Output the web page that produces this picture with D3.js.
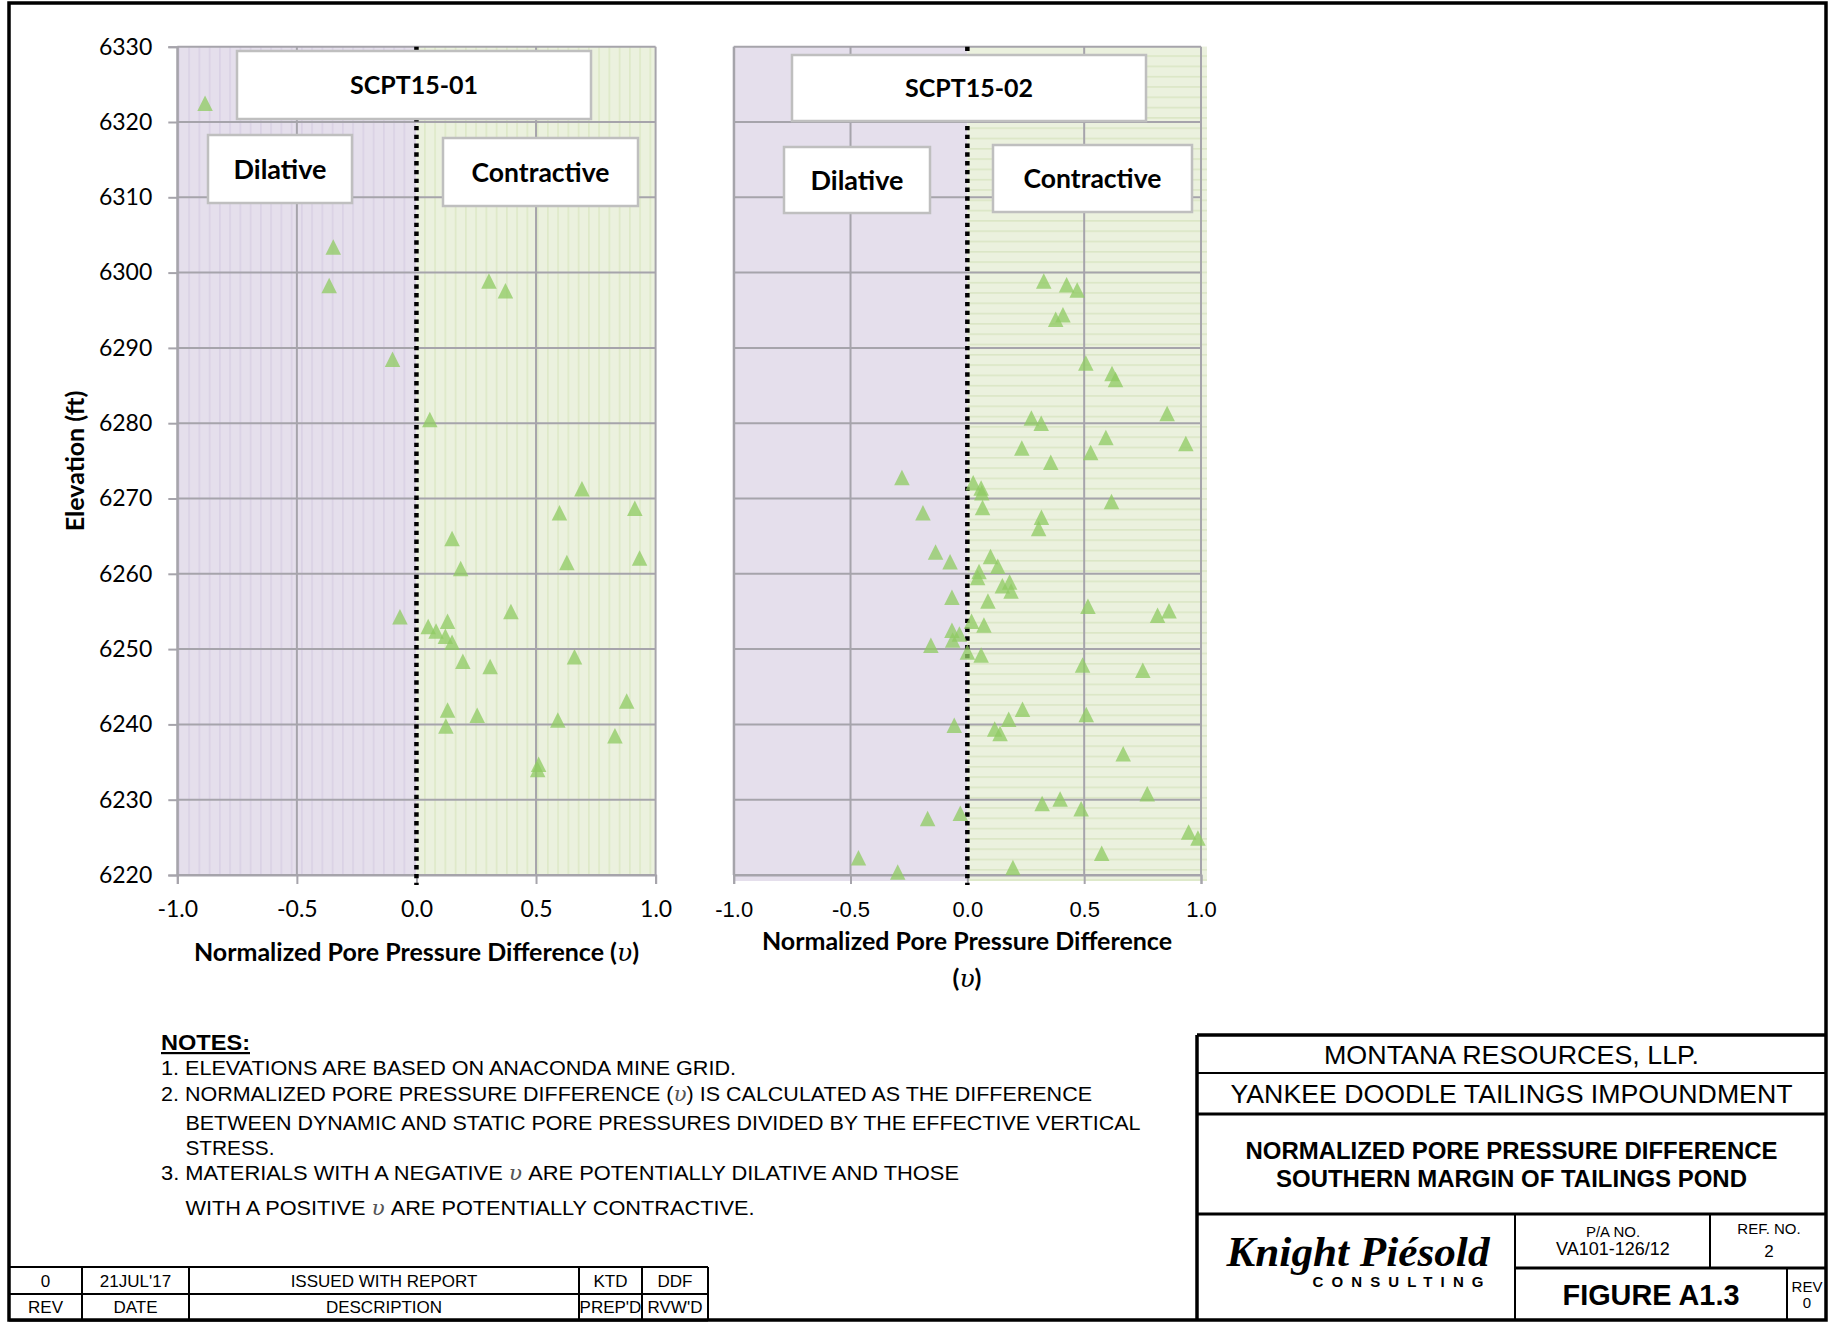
<!DOCTYPE html>
<html>
<head>
<meta charset="utf-8">
<script src="https://cdnjs.cloudflare.com/ajax/libs/d3/7.8.5/d3.min.js"></script>
<style>
  html, body { margin: 0; padding: 0; background: #fff; }
  svg { display: block; }
</style>
</head>
<body>
<svg id="sheet" width="1829" height="1323"></svg>
<script>
// ---- Data -------------------------------------------------------------
const elevTicks = [6220, 6230, 6240, 6250, 6260, 6270, 6280, 6290, 6300, 6310, 6320, 6330];
const vTicks = [-1.0, -0.5, 0.0, 0.5, 1.0];
const vTickLabels = ["-1.0", "-0.5", "0.0", "0.5", "1.0"];

// SCPT15-01 : normalized pore pressure difference and elevation (ft)
const scpt01V = [-0.884, -0.348, -0.365, -0.100, 0.056, 0.303, 0.372, 0.692, 0.598, 0.913,
  0.149, 0.629, 0.933, 0.185, -0.069, 0.395, 0.049, 0.082, 0.130, 0.121,
  0.149, 0.194, 0.308, 0.661, 0.879, 0.130, 0.254, 0.123, 0.591, 0.830,
  0.511, 0.507];
const scpt01Elev = [6322.5, 6303.4, 6298.3, 6288.5, 6280.5, 6298.9, 6297.6, 6271.3, 6268.1, 6268.7,
  6264.7, 6261.5, 6262.1, 6260.7, 6254.3, 6255.0, 6253.0, 6252.4, 6253.7, 6251.7,
  6250.9, 6248.4, 6247.7, 6249.0, 6243.1, 6241.9, 6241.2, 6239.8, 6240.6, 6238.5,
  6234.7, 6234.0];

// SCPT15-02
const scpt02V = [0.327, 0.425, 0.470, 0.409, 0.378, 0.507, 0.619, 0.634, 0.274, 0.316,
  0.855, 0.593, 0.233, 0.528, 0.935, 0.357, -0.280, 0.025, 0.059, 0.062,
  0.617, -0.190, 0.065, 0.317, 0.305, -0.136, 0.099, -0.074, 0.130, 0.050,
  0.044, 0.181, 0.150, 0.187, -0.066, 0.088, 0.516, 0.814, 0.863, 0.018,
  0.071, -0.066, -0.034, -0.063, -0.156, 0.000, 0.059, 0.493, 0.751, 0.236,
  0.509, 0.177, -0.056, 0.117, 0.140, 0.667, 0.770, 0.397, 0.320, 0.487,
  -0.030, -0.170, 0.947, 0.987, 0.575, -0.466, -0.298, 0.195];
const scpt02Elev = [6298.9, 6298.4, 6297.7, 6294.4, 6293.8, 6288.0, 6286.6, 6285.8, 6280.7, 6280.0,
  6281.3, 6278.1, 6276.7, 6276.1, 6277.3, 6274.8, 6272.8, 6272.1, 6271.4, 6270.75,
  6269.6, 6268.1, 6268.8, 6267.5, 6266.0, 6262.9, 6262.3, 6261.6, 6261.0, 6260.3,
  6259.5, 6258.9, 6258.4, 6257.7, 6256.9, 6256.4, 6255.7, 6254.5, 6255.1, 6253.7,
  6253.2, 6252.5, 6252.0, 6251.2, 6250.5, 6249.6, 6249.2, 6247.9, 6247.2, 6242.0,
  6241.3, 6240.7, 6239.9, 6239.4, 6238.8, 6236.1, 6230.8, 6230.1, 6229.5, 6228.8,
  6228.2, 6227.5, 6225.7, 6224.9, 6222.9, 6222.3, 6220.4, 6221.0];

const notesLines = [
  "1. ELEVATIONS ARE BASED ON ANACONDA MINE GRID.",
  ["2. NORMALIZED PORE PRESSURE DIFFERENCE (", "υ", ") IS CALCULATED AS THE DIFFERENCE"],
  "BETWEEN DYNAMIC AND STATIC PORE PRESSURES DIVIDED BY THE EFFECTIVE VERTICAL",
  "STRESS.",
  ["3. MATERIALS WITH A  NEGATIVE ", "υ", " ARE POTENTIALLY DILATIVE AND THOSE"],
  ["WITH A POSITIVE ", "υ", " ARE POTENTIALLY CONTRACTIVE."]
];
const revRow = ["0", "21JUL'17", "ISSUED WITH REPORT", "KTD", "DDF"];
const revHead = ["REV", "DATE", "DESCRIPTION", "PREP'D", "RVW'D"];

// ---- Drawing ----------------------------------------------------------
const svg = d3.select("#sheet");
const CAL = "Lato, 'Open Sans', sans-serif";
const ARIAL = "'Liberation Sans', Arial, sans-serif";
const NARROW = "'Liberation Sans Narrow', 'Arial Narrow', 'Liberation Sans', sans-serif";

const defs = svg.append("defs");
function linePattern(id, bg, fg, vertical) {
  const p = defs.append("pattern").attr("id", id)
    .attr("patternUnits", "userSpaceOnUse")
    .attr("width", vertical ? 10.25 : 20).attr("height", vertical ? 20 : 10.3);
  p.append("rect").attr("width", 20).attr("height", 20).attr("fill", bg);
  if (vertical) p.append("rect").attr("x", 4).attr("y", 0).attr("width", 1.2).attr("height", 20).attr("fill", fg);
  else p.append("rect").attr("x", 0).attr("y", 4).attr("width", 20).attr("height", 1.2).attr("fill", fg);
}
linePattern("purpleV", "#e5dfec", "#d6cde3", true);
linePattern("greenV", "#ebf1de", "#d9e6c0", true);
linePattern("greenH", "#ebf1de", "#d6e3bd", false);

const yScale = d3.scaleLinear().domain([6220, 6330]).range([875, 46.7]);

// isosceles triangle marker, as wide as it is tall, centred on its bounding box
const markerTriangle = {
  draw(ctx, size) {
    const h = Math.sqrt(size);
    ctx.moveTo(0, -h / 2);
    ctx.lineTo(h / 2, h / 2);
    ctx.lineTo(-h / 2, h / 2);
    ctx.closePath();
  }
};
const triPath = d3.symbol().type(markerTriangle).size(15.5 * 15.5)();

function drawPanel(opts) {
  const x = d3.scaleLinear().domain([-1, 1]).range(opts.xRange);
  const g = svg.append("g");
  const x0 = x(-1), x1 = x(1), xz = x(0), yTop = yScale(6330), yBot = yScale(6220);
  const ext = opts.bgExtend || 0;

  // background halves
  g.append("rect").attr("x", x0).attr("y", yTop).attr("width", xz - x0).attr("height", yBot - yTop + ext)
    .attr("fill", opts.leftFill);
  g.append("rect").attr("x", xz).attr("y", yTop).attr("width", x1 - xz + ext).attr("height", yBot - yTop + ext)
    .attr("fill", opts.rightFill);

  // gridlines
  g.append("g").selectAll("line").data(elevTicks).join("line")
    .attr("x1", x0).attr("x2", x1).attr("y1", d => yScale(d)).attr("y2", d => yScale(d))
    .attr("stroke", "#a6a4ab").attr("stroke-width", 2);
  g.append("g").selectAll("line").data(vTicks.filter(v => v !== 0)).join("line")
    .attr("x1", d => x(d)).attr("x2", d => x(d)).attr("y1", yTop).attr("y2", yBot)
    .attr("stroke", "#a6a4ab").attr("stroke-width", 2);

  // bottom axis
  const xAxis = d3.axisBottom(x).tickValues(vTicks).tickSize(9).tickPadding(17)
    .tickFormat((d, i) => vTickLabels[i]);
  const ax = g.append("g").attr("transform", `translate(0,${yBot})`).call(xAxis);
  ax.select(".domain").attr("stroke", "#a6a4ab").attr("stroke-width", 2);
  ax.selectAll(".tick line").attr("stroke", "#a6a4ab").attr("stroke-width", 2);
  ax.selectAll(".tick text").attr("font-family", opts.tickFont).attr("font-size", opts.tickSize)
    .attr("fill", "#000");

  // left axis
  const yAxis = d3.axisLeft(yScale).tickValues(elevTicks).tickSize(opts.yLabels ? 9 : 0).tickPadding(16)
    .tickFormat(opts.yLabels ? d3.format("d") : () => "");
  const ay = g.append("g").attr("transform", `translate(${x0},0)`).call(yAxis);
  ay.select(".domain").attr("stroke", "#a6a4ab").attr("stroke-width", 2);
  ay.selectAll(".tick line").attr("stroke", "#a6a4ab").attr("stroke-width", 2);
  ay.selectAll(".tick text").attr("font-family", CAL).attr("font-size", 23).attr("fill", "#000");

  // zero line
  g.append("line").attr("x1", xz).attr("x2", xz).attr("y1", yTop).attr("y2", yBot + 10)
    .attr("stroke", "#000").attr("stroke-width", 4.5).attr("stroke-dasharray", "4.4,4.4");

  // markers
  g.append("g").selectAll("path").data(opts.v.map((v, i) => [v, opts.elev[i]])).join("path")
    .attr("d", triPath)
    .attr("transform", d => `translate(${x(d[0])},${yScale(d[1])})`)
    .attr("fill", "#8fcb62").attr("fill-opacity", 0.76);

  // label boxes
  opts.boxes.forEach(b => {
    g.append("rect").attr("x", b.x).attr("y", b.y).attr("width", b.w).attr("height", b.h)
      .attr("fill", "#fff").attr("stroke", "#bfbfbf").attr("stroke-width", 2.5);
    g.append("text").attr("x", b.x + b.w / 2).attr("y", b.y + b.h / 2).attr("dy", "0.36em")
      .attr("text-anchor", "middle").attr("font-family", CAL).attr("font-weight", 700)
      .attr("font-size", b.size || 26).text(b.text);
  });
  return x;
}

drawPanel({
  xRange: [177.3, 655.6], leftFill: "url(#purpleV)", rightFill: "url(#greenV)",
  yLabels: true, tickFont: CAL, tickSize: 23, v: scpt01V, elev: scpt01Elev,
  boxes: [
    { x: 237, y: 51, w: 354, h: 68, text: "SCPT15-01", size: 25 },
    { x: 208, y: 135, w: 144, h: 68, text: "Dilative", size: 27 },
    { x: 443, y: 138, w: 195, h: 68, text: "Contractive", size: 26.5 }
  ]
});
drawPanel({
  xRange: [733.7, 1201], leftFill: "#e5dfec", rightFill: "url(#greenH)", bgExtend: 6,
  yLabels: false, tickFont: ARIAL, tickSize: 22, v: scpt02V, elev: scpt02Elev,
  boxes: [
    { x: 792, y: 55, w: 354, h: 66, text: "SCPT15-02", size: 25 },
    { x: 784, y: 147, w: 146, h: 66, text: "Dilative", size: 27 },
    { x: 993, y: 145, w: 199, h: 67, text: "Contractive", size: 26.5 }
  ]
});

// axis titles
function upsilonTitle(sel, pre, post) {
  sel.append("tspan").text(pre);
  sel.append("tspan").attr("font-family", "'DejaVu Serif', serif").attr("font-style", "italic")
    .attr("font-weight", 400).text("υ");
  sel.append("tspan").text(post);
}
const t1 = svg.append("text").attr("x", 416.5).attr("y", 961).attr("text-anchor", "middle")
  .attr("font-family", CAL).attr("font-weight", 700).attr("font-size", 25);
upsilonTitle(t1, "Normalized Pore Pressure Difference (", ")");

svg.append("text").attr("x", 967).attr("y", 950).attr("text-anchor", "middle")
  .attr("font-family", CAL).attr("font-weight", 700).attr("font-size", 25)
  .text("Normalized Pore Pressure Difference");
const t2 = svg.append("text").attr("x", 967).attr("y", 987).attr("text-anchor", "middle")
  .attr("font-family", CAL).attr("font-weight", 700).attr("font-size", 25);
upsilonTitle(t2, "(", ")");

svg.append("text").attr("transform", "translate(84,461) rotate(-90)").attr("text-anchor", "middle")
  .attr("font-family", CAL).attr("font-weight", 700).attr("font-size", 25).text("Elevation (ft)");

// ---- Notes ------------------------------------------------------------
svg.append("text").attr("x", 161).attr("y", 1050).attr("font-family", NARROW).attr("font-weight", 700)
  .attr("font-size", 22).attr("text-decoration", "underline")
  .attr("textLength", 89).attr("lengthAdjust", "spacingAndGlyphs").text("NOTES:");
const noteX = [161, 161, 185.5, 185.5, 161, 185.5];
const noteY = [1075, 1101, 1130, 1155, 1180, 1215];
const noteW = [575, 931, 955, 89, 798, 569];
notesLines.forEach((ln, i) => {
  const t = svg.append("text").attr("x", noteX[i]).attr("y", noteY[i])
    .attr("font-family", NARROW).attr("font-size", 21)
    .attr("textLength", noteW[i]).attr("lengthAdjust", "spacingAndGlyphs");
  if (Array.isArray(ln)) {
    t.append("tspan").text(ln[0]);
    t.append("tspan").attr("font-family", "'DejaVu Serif', serif").attr("font-style", "italic")
      .attr("fill", "#555").text(ln[1]);
    t.append("tspan").text(ln[2]);
  } else t.text(ln);
});

// ---- Sheet frame ------------------------------------------------------
svg.append("rect").attr("x", 9).attr("y", 3).attr("width", 1817).attr("height", 1317)
  .attr("fill", "none").attr("stroke", "#000").attr("stroke-width", 3.5);

// ---- Revision table ---------------------------------------------------
const revCols = [9, 82, 189, 579, 642, 708];
const revRows = [1267, 1294, 1320.5];
const rv = svg.append("g").attr("stroke", "#000").attr("stroke-width", 2);
revRows.forEach(y => rv.append("line").attr("x1", 9).attr("x2", 708).attr("y1", y).attr("y2", y));
revCols.forEach(x => rv.append("line").attr("x1", x).attr("x2", x).attr("y1", 1267).attr("y2", 1320.5));
[revRow, revHead].forEach((row, r) => {
  row.forEach((s, c) => {
    svg.append("text").attr("x", (revCols[c] + revCols[c + 1]) / 2).attr("y", (revRows[r] + revRows[r + 1]) / 2)
      .attr("dy", "0.36em").attr("text-anchor", "middle").attr("font-family", NARROW)
      .attr("font-size", 17).text(s);
  });
});

// ---- Title block ------------------------------------------------------
const tb = svg.append("g").attr("stroke", "#000");
const L = 1197, R = 1826;
tb.append("line").attr("x1", L).attr("x2", R).attr("y1", 1035).attr("y2", 1035).attr("stroke-width", 3.5);
tb.append("line").attr("x1", L).attr("x2", L).attr("y1", 1035).attr("y2", 1321).attr("stroke-width", 3.5);
tb.append("line").attr("x1", L).attr("x2", R).attr("y1", 1073).attr("y2", 1073).attr("stroke-width", 2);
tb.append("line").attr("x1", L).attr("x2", R).attr("y1", 1114).attr("y2", 1114).attr("stroke-width", 3);
tb.append("line").attr("x1", L).attr("x2", R).attr("y1", 1214).attr("y2", 1214).attr("stroke-width", 3);
tb.append("line").attr("x1", 1515).attr("x2", 1515).attr("y1", 1214).attr("y2", 1321).attr("stroke-width", 2);
tb.append("line").attr("x1", 1710).attr("x2", 1710).attr("y1", 1214).attr("y2", 1268).attr("stroke-width", 2);
tb.append("line").attr("x1", 1515).attr("x2", R).attr("y1", 1268).attr("y2", 1268).attr("stroke-width", 3);
tb.append("line").attr("x1", 1787).attr("x2", 1787).attr("y1", 1268).attr("y2", 1321).attr("stroke-width", 2);

function tbText(x, y, s, size, opts = {}) {
  const t = svg.append("text").attr("x", x).attr("y", y).attr("dy", "0.36em").attr("text-anchor", "middle")
    .attr("font-family", opts.family || ARIAL).attr("font-size", size)
    .attr("font-weight", opts.weight || 400).text(s);
  if (opts.style) t.attr("font-style", opts.style);
  if (opts.len) t.attr("textLength", opts.len).attr("lengthAdjust", opts.adjust || "spacingAndGlyphs");
  return t;
}
const cx = (L + R) / 2;
tbText(cx, 1055, "MONTANA RESOURCES, LLP.", 26, { len: 375 });
tbText(cx, 1094, "YANKEE DOODLE TAILINGS IMPOUNDMENT", 26, { len: 562 });
tbText(cx, 1151, "NORMALIZED PORE PRESSURE DIFFERENCE", 23, { weight: 700, len: 532 });
tbText(cx, 1179, "SOUTHERN MARGIN OF TAILINGS POND", 23, { weight: 700, len: 471 });
tbText(1358, 1251, "Knight Piésold", 43, { family: "'Liberation Serif', 'Times New Roman', serif", weight: 700, style: "italic", len: 263 });
tbText(1398, 1282, "CONSULTING", 15, { weight: 700, len: 171, adjust: "spacing" });
tbText(1613, 1232, "P/A NO.", 15, { family: NARROW });
tbText(1613, 1249, "VA101-126/12", 18);
tbText(1769, 1229, "REF.  NO.", 15);
tbText(1769, 1251, "2", 17);
tbText(1651, 1294, "FIGURE A1.3", 30, { weight: 700, len: 177 });
tbText(1807, 1287, "REV", 15, { family: NARROW });
tbText(1807, 1303, "0", 15);
</script>
</body>
</html>
